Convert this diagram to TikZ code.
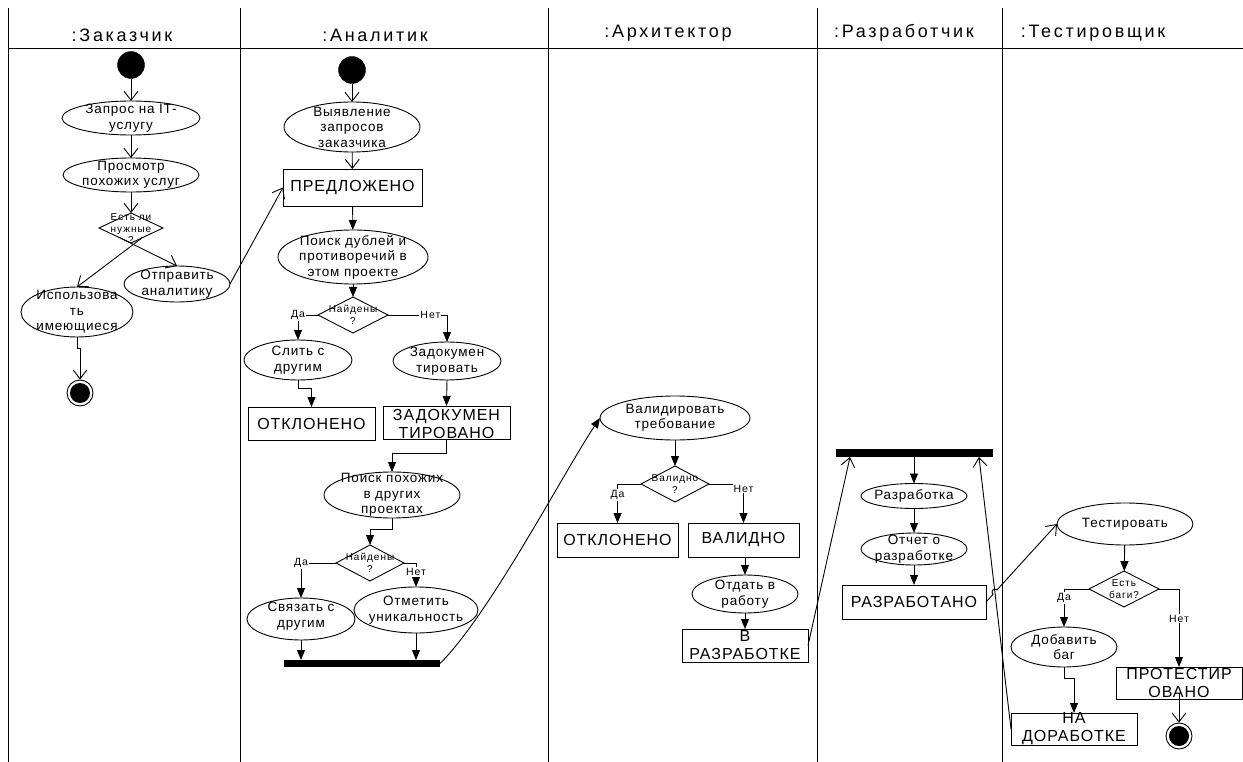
\documentclass[tikz,border=0pt]{standalone}
\usepackage{fontspec}
\setmainfont{Liberation Sans}
\newfontfamily\hdrfont[LetterSpace=15]{Liberation Sans}
\newfontfamily\actfont[LetterSpace=6]{Liberation Sans}
\newfontfamily\boxfont[LetterSpace=6]{Liberation Sans}
\newfontfamily\smlfont[LetterSpace=10]{Liberation Sans}
\usetikzlibrary{shapes.geometric,arrows.meta,calc}
\begin{document}
\begin{tikzpicture}[x=1pt,y=-1pt,
  lane/.style={line width=1pt,draw=black},
  hdr/.style={font=\hdrfont\fontsize{18}{20}\selectfont, inner sep=0, anchor=base},
  act/.style={ellipse, draw, line width=0.9pt, inner sep=0, outer sep=0},
  txt/.style={font=\actfont\fontsize{13.5}{15.5}\selectfont, align=center, inner sep=0},
  boxn/.style={rectangle, draw, line width=0.9pt, inner sep=0, outer sep=0},
  boxtxt/.style={font=\boxfont\fontsize{16}{18}\selectfont, align=center, inner sep=0},
  dec/.style={diamond, draw, line width=0.9pt, inner sep=0, outer sep=0},
  dectxt/.style={font=\smlfont\fontsize{10}{11.5}\selectfont, align=center, inner sep=0},
  lbl/.style={font=\smlfont\fontsize{10.5}{12}\selectfont, fill=white, inner sep=1pt},
  startc/.style={circle, fill=black, draw, minimum size=27pt, inner sep=0},
  endc/.style={circle, draw, line width=0.9pt, minimum size=26pt, inner sep=0,
    path picture={\fill[black] (path picture bounding box.center) circle (10pt);}},
  barn/.style={rectangle, fill=black, inner sep=0, outer sep=0},
  farr/.style={line width=0.9pt, -{Triangle[length=10pt,width=8pt]}},
  oarr/.style={line width=0.9pt, -{Straight Barb[length=9pt,width=14pt]}},
]
\fill[white] (0,0) rectangle (1243,762);
\useasboundingbox (0,0) rectangle (1243,762);

% lanes
\draw[lane] (8,8) -- (8,762);
\draw[lane] (240,8) -- (240,762);
\draw[lane] (548,8) -- (548,762);
\draw[lane] (817,8) -- (817,762);
\draw[lane] (1002,8) -- (1002,762);
\draw[lane] (8,49) -- (1243,49);

\node[hdr] (h1) at (122,41.5) {:Заказчик};
\node[hdr] (h2) at (375,41.5) {:Аналитик};
\node[hdr] (h3) at (668,37.5) {:Архитектор};
\node[hdr] (h4) at (904,37.5) {:Разработчик};
\node[hdr] (h5) at (1093,37.5) {:Тестировщик};

% ---------- Заказчик
\node[startc] (s1) at (131,65) {};
\node[act, minimum width=138pt, minimum height=34pt] (a1) at (131,118) {};
\node[txt] (a1t) at (a1) {Запрос на IT-\\услугу};
\node[act, minimum width=136pt, minimum height=34pt] (a2) at (131,175) {};
\node[txt] (a2t) at (a2) {Просмотр\\похожих услуг};
\node[dec, minimum width=64pt, minimum height=30pt] (d1) at (131,228) {};
\node[dectxt] (d1t) at (131,229) {Есть ли\\нужные\\?};
\node[act, minimum width=112pt, minimum height=50pt] (a3) at (77,312) {};
\node[txt] (a3t) at (a3) {Использова\\ть\\имеющиеся};
\node[act, minimum width=106pt, minimum height=36pt] (a4) at (177,284) {};
\node[txt] (a4t) at (a4) {Отправить\\аналитику};
\node[endc] (f1) at (80,393) {};

\draw[oarr] (s1) -- (a1);
\draw[oarr] (a1) -- (a2);
\draw[oarr] (a2) -- (d1);
\draw[oarr] ($(d1.south)!0.35!(d1.east)$) -- (a3.north);
\draw[oarr] ($(d1.south)!0.35!(d1.west)$) -- (a4.north);
\draw[oarr] (a3.south) -- ++(0,11) -| (f1.north);

% ---------- Аналитик
\node[startc] (s2) at (352,70) {};
\node[act, minimum width=136pt, minimum height=50pt] (a5) at (352,127) {};
\node[txt] (a5t) at (a5) {Выявление\\запросов\\заказчика};
\node[boxn, minimum width=139pt, minimum height=37pt] (b1) at (352.5,187.5) {};
\node[boxtxt] (b1t) at (b1) {ПРЕДЛОЖЕНО};
\node[act, minimum width=150pt, minimum height=54pt] (a6) at (353,257) {};
\node[txt] (a6t) at (a6) {Поиск дублей и\\противоречий в\\этом проекте};
\node[dec, minimum width=70pt, minimum height=36pt] (d2) at (353,315) {};
\node[dectxt] (d2t) at (d2) {Найдены\\?};
\node[act, minimum width=108pt, minimum height=40pt] (a7) at (298,360) {};
\node[txt] (a7t) at (a7) {Слить с\\другим};
\node[act, minimum width=108pt, minimum height=38pt] (a8) at (447,361) {};
\node[txt] (a8t) at (a8) {Задокумен\\тировать};
\node[boxn, minimum width=127pt, minimum height=33pt] (b2) at (311.5,423.5) {};
\node[boxtxt] (b2t) at (b2) {ОТКЛОНЕНО};
\node[boxn, minimum width=127pt, minimum height=33pt] (b3) at (446.5,422.5) {};
\node[boxtxt] (b3t) at (446.5,423.5) {ЗАДОКУМЕН\\ТИРОВАНО};
\node[act, minimum width=136pt, minimum height=46pt] (a9) at (392,495) {};
\node[txt] (a9t) at (a9) {Поиск похожих\\в других\\проектах};
\node[dec, minimum width=68pt, minimum height=36pt] (d3) at (370,563) {};
\node[dectxt] (d3t) at (d3) {Найдены\\?};
\node[act, minimum width=108pt, minimum height=42pt] (a10) at (301,619) {};
\node[txt] (a10t) at (301,616) {Связать с\\другим};
\node[act, minimum width=124pt, minimum height=46pt] (a11) at (416,610) {};
\node[txt] (a11t) at (a11) {Отметить\\уникальность};
\node[barn, minimum width=156pt, minimum height=7pt] (bar1) at (362,663.5) {};

\draw[oarr] (s2) -- (a5);
\draw[oarr] (a5) -- (b1);
\draw[oarr] (a4.east) -- (b1.west);
\draw[farr] (b1) -- (a6);
\draw[farr] (a6) -- (d2);
\draw[farr] (d2.west) -| node[lbl, pos=0.5] (l1) {Да} (a7.north);
\draw[farr] (d2.east) -| node[lbl, pos=0.36] (l2) {Нет} (a8.north);
\draw[farr] (a7.south) -- ++(0,8) -| (b2.north);
\draw[farr] (a8.south) -- (b3.north);
\draw[farr] (b3.south) -- ++(0,14) -| (a9.north);
\draw[farr] (a9.south) -- ++(0,11) -| (d3.north);
\draw[farr] (d3.west) -| node[lbl, pos=0.5] (l3) {Да} (a10.north);
\draw[farr] (d3.east) -| node[lbl, pos=0.69] (l4) {Нет} (a11.north);
\draw[farr] (a10.south) -- (a10.south |- bar1.north);
\draw[farr] (a11.south) -- (a11.south |- bar1.north);

% ---------- Архитектор
\node[act, minimum width=150pt, minimum height=44pt] (a12) at (675,418) {};
\node[txt] (a12t) at (a12) {Валидировать\\требование};
\node[dec, minimum width=68pt, minimum height=36pt] (d4) at (675,484) {};
\node[dectxt] (d4t) at (d4) {Валидно\\?};
\node[boxn, minimum width=121pt, minimum height=34pt] (b4) at (617.5,540) {};
\node[boxtxt] (b4t) at (b4) {ОТКЛОНЕНО};
\node[boxn, minimum width=111pt, minimum height=34pt] (b5) at (743.5,540) {};
\node[boxtxt] (b5t) at (b5) {ВАЛИДНО};
\node[act, minimum width=106pt, minimum height=38pt] (a13) at (745,594) {};
\node[txt] (a13t) at (a13) {Отдать в\\работу};
\node[boxn, minimum width=126pt, minimum height=33pt] (b6) at (745,645.5) {};
\node[boxtxt] (b6t) at (b6) {В\\РАЗРАБОТКЕ};

\draw[farr] (bar1.east) .. controls (490,614) and (565,470) .. (a12.west);
\draw[farr] (a12) -- (d4);
\draw[farr] (d4.west) -| node[lbl, pos=0.64] (l5) {Да} (b4.north);
\draw[farr] (d4.east) -| node[lbl, pos=0.56] (l6) {Нет} (b5.north);
\draw[farr] (b5.south -| a13.north) -- (a13.north);
\draw[farr] (a13) -- (b6);

% ---------- Разработчик
\node[barn, minimum width=157pt, minimum height=8pt] (bar2) at (914.5,453) {};
\node[act, minimum width=106pt, minimum height=25pt] (a14) at (914,496) {};
\node[txt] (a14t) at (a14) {Разработка};
\node[act, minimum width=106pt, minimum height=32pt] (a15) at (914,549) {};
\node[txt] (a15t) at (a15) {Отчет о\\разработке};
\node[boxn, minimum width=144pt, minimum height=34pt] (b7) at (914,602) {};
\node[boxtxt] (b7t) at (b7) {РАЗРАБОТАНО};

\draw[oarr] (b6.east) -- ($(bar2.south west)+(14,0)$);
\draw[farr] (bar2.south -| a14.north) -- (a14.north);
\draw[farr] (a14) -- (a15);
\draw[farr] (a15) -- (b7);

% ---------- Тестировщик
\node[act, minimum width=136pt, minimum height=42pt] (a16) at (1125,524) {};
\node[txt] (a16t) at (a16) {Тестировать};
\node[dec, minimum width=70pt, minimum height=36pt] (d5) at (1124,589) {};
\node[dectxt] (d5t) at (d5) {Есть\\баги?};
\node[act, minimum width=106pt, minimum height=40pt] (a17) at (1064,647) {};
\node[txt] (a17t) at (a17) {Добавить\\баг};
\node[boxn, minimum width=126pt, minimum height=32pt] (b8) at (1179,683) {};
\node[boxtxt] (b8t) at (b8) {ПРОТЕСТИР\\ОВАНО};
\node[boxn, minimum width=126pt, minimum height=32pt] (b9) at (1074,729) {};
\node[boxtxt] (b9t) at (b9) {НА\\ДОРАБОТКЕ};
\node[endc] (f2) at (1179,736) {};

\draw[oarr] (b7.east) -- (993.0,594.3) .. controls (990.0,591.6) and (994.0,587.2) .. (997.0,589.9) -- (a16.west);
\draw[farr] (a16) -- (d5);
\draw[farr] (d5.west) -| node[lbl, pos=0.62] (l7) {Да} (a17.north);
\draw[farr] (d5.east) -| node[lbl, pos=0.69] (l8) {Нет} (b8.north);
\draw[farr] (a17.south) -- ++(0,11) -| (b9.north);
\draw[oarr] ($(b8.center)+(0,10)$) -- (f2.north);
\draw[oarr] (b9.west) -- ($(bar2.south east)+(-14,0)$);
\end{tikzpicture}
\end{document}
